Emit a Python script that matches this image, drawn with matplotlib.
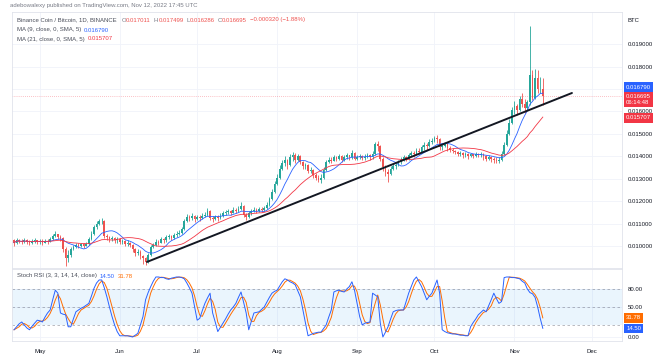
import matplotlib
matplotlib.use('Agg')
import matplotlib.pyplot as plt
import matplotlib.dates as mdates
import numpy as np
import pandas as pd

# BNB/BTC daily candles, prices in thousandths of BTC (10.20 -> 0.01020)
start_date = '2022-04-21'
first_open = 10.25
closes = [
    10.15, 10.28, 10.22, 10.18, 10.25, 10.20, 10.12, 10.22, 10.26, 10.18,
    10.22, 10.15, 10.24, 10.20, 10.30, 10.45, 10.52, 10.40, 10.35, 9.85,
    9.45, 9.60, 9.85, 9.95, 10.05, 9.98, 10.08, 10.02, 10.10, 10.30,
    10.55, 10.85, 11.00, 11.10, 11.12, 10.45, 10.38, 10.30, 10.35, 10.25,
    10.30, 10.18, 10.22, 10.10, 10.15, 10.05, 9.85, 9.70, 9.75, 9.55,
    9.45, 9.30, 9.60, 9.95, 10.05, 10.20, 10.15, 10.30, 10.25, 10.40,
    10.45, 10.35, 10.50, 10.55, 10.60, 10.75, 11.10, 11.30, 11.25, 11.35,
    11.20, 11.30, 11.25, 11.35, 11.40, 11.55, 11.25, 11.20, 11.30, 11.25,
    11.35, 11.45, 11.50, 11.55, 11.48, 11.60, 11.55, 11.65, 11.80, 11.40,
    11.30, 11.45, 11.55, 11.62, 11.58, 11.65, 11.60, 11.70, 11.85, 12.10,
    12.40, 12.75, 13.05, 13.45, 13.70, 13.85, 13.60, 13.95, 14.05, 13.85,
    14.00, 13.75, 13.55, 13.60, 13.35, 13.40, 13.15, 13.05, 12.95, 13.05,
    13.40, 13.75, 13.85, 13.80, 13.95, 13.90, 14.00, 13.85, 13.95, 14.05,
    13.95, 14.15, 13.90, 13.95, 14.00, 13.92, 13.98, 14.05, 13.95, 14.10,
    14.55, 14.45, 13.90, 13.50, 13.30, 13.20, 13.45, 13.55, 13.60, 13.75,
    13.85, 13.95, 13.90, 14.05, 14.15, 14.10, 14.25, 14.20, 14.40, 14.50,
    14.45, 14.65, 14.70, 14.80, 14.75, 14.40, 14.45, 14.55, 14.35, 14.30,
    14.25, 14.20, 14.10, 14.15, 14.05, 14.12, 14.00, 14.08, 14.02, 14.10,
    14.05, 14.12, 14.00, 13.90, 13.95, 13.88, 13.85, 13.80, 13.85, 14.10,
    14.50, 15.00, 15.50, 16.05, 16.25, 16.05, 16.55, 16.35, 16.15, 16.40,
    17.60, 16.60, 17.50, 17.00, 17.011, 16.695,
]
highs = [
    10.32, 10.36, 10.33, 10.30, 10.34, 10.31, 10.27, 10.30, 10.35, 10.29,
    10.33, 10.30, 10.32, 10.31, 10.40, 10.55, 10.65, 10.55, 10.48, 10.40,
    9.95, 9.80, 9.95, 10.05, 10.15, 10.12, 10.15, 10.12, 10.18, 10.38,
    10.65, 10.95, 11.10, 11.22, 11.25, 11.15, 10.55, 10.45, 10.45, 10.40,
    10.40, 10.35, 10.30, 10.28, 10.25, 10.20, 10.10, 9.90, 9.85, 9.80,
    9.60, 9.50, 9.70, 10.05, 10.15, 10.30, 10.28, 10.38, 10.35, 10.48,
    10.55, 10.50, 10.58, 10.65, 10.70, 10.85, 11.20, 11.42, 11.40, 11.45,
    11.38, 11.40, 11.38, 11.45, 11.52, 11.70, 11.60, 11.35, 11.40, 11.38,
    11.45, 11.55, 11.62, 11.65, 11.60, 11.72, 11.68, 11.80, 11.95, 11.85,
    11.45, 11.55, 11.65, 11.72, 11.70, 11.75, 11.72, 11.80, 11.95, 12.20,
    12.55, 12.90, 13.20, 13.60, 13.85, 14.00, 13.90, 14.10, 14.20, 14.15,
    14.10, 14.05, 13.80, 13.72, 13.65, 13.52, 13.45, 13.25, 13.15, 13.20,
    13.50, 13.85, 13.95, 13.95, 14.05, 14.02, 14.12, 14.05, 14.05, 14.15,
    14.05, 14.30, 14.20, 14.05, 14.10, 14.05, 14.08, 14.15, 14.10, 14.25,
    14.65, 14.70, 14.50, 13.95, 13.60, 13.45, 13.55, 13.65, 13.70, 13.85,
    13.95, 14.05, 14.02, 14.15, 14.25, 14.25, 14.35, 14.35, 14.50, 14.62,
    14.60, 14.75, 14.82, 14.92, 14.95, 14.80, 14.55, 14.65, 14.60, 14.45,
    14.35, 14.30, 14.25, 14.22, 14.20, 14.20, 14.15, 14.15, 14.12, 14.18,
    14.15, 14.20, 14.15, 14.05, 14.05, 14.00, 13.95, 13.95, 13.95, 14.25,
    14.65, 15.15, 15.65, 16.20, 16.45, 16.35, 16.70, 16.80, 16.55, 16.50,
    19.80, 17.85, 17.90, 17.85, 17.55, 17.499,
]
lows = [
    10.02, 10.10, 10.14, 10.08, 10.12, 10.10, 10.03, 10.08, 10.15, 10.07,
    10.10, 10.05, 10.12, 10.10, 10.17, 10.28, 10.38, 10.30, 10.22, 9.75,
    9.10, 9.30, 9.50, 9.80, 9.90, 9.90, 9.95, 9.92, 9.98, 10.05,
    10.25, 10.48, 10.78, 10.95, 10.98, 10.35, 10.25, 10.20, 10.22, 10.15,
    10.15, 10.08, 10.10, 10.00, 10.02, 9.95, 9.75, 9.55, 9.62, 9.40,
    9.20, 9.15, 9.25, 9.55, 9.90, 10.00, 10.05, 10.12, 10.15, 10.20,
    10.30, 10.25, 10.32, 10.42, 10.48, 10.55, 10.72, 11.05, 11.12, 11.15,
    11.08, 11.15, 11.12, 11.20, 11.28, 11.35, 11.15, 11.08, 11.15, 11.12,
    11.22, 11.30, 11.38, 11.42, 11.38, 11.45, 11.45, 11.50, 11.60, 11.30,
    11.18, 11.25, 11.40, 11.50, 11.45, 11.52, 11.50, 11.55, 11.65, 11.80,
    12.05, 12.35, 12.70, 13.00, 13.40, 13.55, 13.45, 13.55, 13.80, 13.70,
    13.80, 13.65, 13.45, 13.45, 13.25, 13.25, 13.05, 12.95, 12.85, 12.80,
    13.00, 13.35, 13.70, 13.70, 13.78, 13.80, 13.85, 13.75, 13.80, 13.90,
    13.85, 13.90, 13.82, 13.85, 13.88, 13.82, 13.85, 13.92, 13.85, 13.90,
    14.05, 14.25, 13.80, 13.35, 13.10, 12.85, 13.15, 13.40, 13.45, 13.55,
    13.65, 13.80, 13.78, 13.85, 14.00, 13.98, 14.05, 14.08, 14.15, 14.30,
    14.30, 14.40, 14.55, 14.62, 14.60, 14.30, 14.30, 14.40, 14.25, 14.18,
    14.15, 14.10, 14.00, 14.02, 13.92, 13.98, 13.90, 13.95, 13.92, 13.98,
    13.95, 13.98, 13.85, 13.78, 13.82, 13.75, 13.72, 13.70, 13.72, 13.80,
    14.05, 14.45, 14.95, 15.45, 15.90, 15.85, 16.00, 16.20, 15.95, 16.05,
    16.30, 16.50, 16.55, 16.80, 16.80, 16.286,
]
# Stoch RSI %K (one value per day)
stoch_k = [
    12, 17, 22, 25, 20, 15, 12, 18, 23, 28,
    27, 25, 33, 40, 45, 62, 78, 73, 40, 38,
    37, 17, 17, 30, 42, 45, 48, 50, 53, 56,
    68, 81, 90, 95, 95, 82, 67, 50, 34, 20,
    9, 2, 2, 2, 2, 1, 0, 3, 6, 20,
    34, 62, 74, 84, 93, 100, 100, 99, 99, 97,
    96, 98, 99, 100, 100, 99, 97, 90, 82, 73,
    50, 28, 31, 44, 56, 65, 73, 40, 25, 9,
    16, 23, 30, 38, 45, 50, 56, 66, 75, 58,
    40, 12, 26, 40, 41, 42, 46, 50, 58, 66,
    73, 76, 78, 85, 92, 97, 95, 92, 90, 87,
    77, 67, 45, 23, 2, 4, 6, 7, 8, 8,
    14, 20, 33, 45, 75, 77, 78, 76, 75, 80,
    84, 92, 78, 56, 34, 20, 23, 24, 25, 73,
    70, 67, 23, 0, 8, 17, 30, 42, 44, 45,
    45, 45, 59, 73, 84, 95, 100, 92, 84, 73,
    62, 68, 73, 84, 95, 73, 12, 9, 7, 6,
    5, 5, 4, 3, 3, 2, 2, 17, 24, 30,
    37, 41, 45, 42, 52, 62, 73, 64, 56, 59,
    99, 100, 100, 99, 99, 98, 97, 93, 90, 80,
    74, 72, 66, 50, 31, 14.5,
]

# last values as printed by the chart legend
ma9_last = 0.016790
ma21_last = 0.015707
stoch_k_last = 14.50
stoch_d_last = 31.78

months = ['May', 'Jun', 'Jul', 'Aug', 'Sep', 'Oct', 'Nov', 'Dec']
month_starts = ['2022-05-01', '2022-06-01', '2022-07-01', '2022-08-01',
                '2022-09-01', '2022-10-01', '2022-11-01', '2022-12-01']
price_ticks = [10, 11, 12, 13, 14, 15, 16, 17, 18, 19]
hidden_price_ticks = [17]  # covered by the last-value labels on the scale
stoch_ticks = [0, 50, 80]
trend_dates = ['2022-06-11 13:00', '2022-11-23 07:00']
trend_prices = [9.29, 16.82]

W, H = 660, 361
GREEN, RED = '#26a69a', '#ef5350'
BLUE, ORANGE, MA_RED = '#2962ff', '#ff6d00', '#f23645'
GRAY, DARK = '#787b86', '#131722'
FONT = 'Liberation Sans'
FS = 4.3

closes = np.array(closes) / 1000
highs = np.array(highs) / 1000
lows = np.array(lows) / 1000
# daily crypto bars open at the previous close
opens = np.concatenate([[first_open / 1000], closes[:-1]])
highs = np.maximum(highs, np.maximum(opens, closes))
lows = np.minimum(lows, np.minimum(opens, closes))
dates = pd.date_range(start_date, periods=len(closes), freq='D')
x = mdates.date2num(dates)

ma9 = pd.Series(closes).rolling(9, min_periods=1).mean()
ma21 = pd.Series(closes).rolling(21, min_periods=1).mean()
k = pd.Series(stoch_k, dtype=float)
d = k.rolling(3, min_periods=1).mean()

fig = plt.figure(figsize=(W / 100, H / 100), dpi=100)
fig.patch.set_facecolor('white')


def px_axes(l, t, r, b):
    return fig.add_axes([l / W, 1 - b / H, (r - l) / W, (b - t) / H])


ax = px_axes(12, 12, 622, 268)
ax2 = px_axes(12, 269, 622, 341)

x0 = x[0]
month_x = mdates.date2num(pd.to_datetime(month_starts))
for a in (ax, ax2):
    a.set_xlim(x0 - 0.78, x0 + 235.7)
    a.set_xticks(month_x)
    for s in a.spines.values():
        s.set_color('#e0e3eb')
        s.set_linewidth(0.6)
    a.grid(True, color='#f0f3fa', lw=0.6)
    a.set_axisbelow(True)
    a.yaxis.tick_right()
    a.tick_params(axis='both', length=0, labelsize=FS, labelcolor=DARK, pad=4.5)

# ---- price pane
ax.set_ylim(9.02e-3, 20.43e-3)
ax.set_yticks(np.array(price_ticks) / 1000)
ax.set_yticklabels(['' if t in hidden_price_ticks else '%.6f' % (t / 1000) for t in price_ticks],
                   family=FONT)
ax.tick_params(axis='x', labelbottom=False)

up = closes >= opens
col = np.where(up, GREEN, RED)
ax.vlines(x, lows, highs, colors=col, lw=0.6, zorder=3)
ax.bar(x, np.maximum(np.abs(closes - opens), 0.00002), bottom=np.minimum(opens, closes),
       width=0.65, color=col, lw=0, zorder=3)
ax.plot(x, ma9, color=BLUE, lw=0.6, zorder=4)
ax.plot(x, ma21, color=MA_RED, lw=0.6, zorder=4)
ax.plot(mdates.date2num(pd.to_datetime(trend_dates)), np.array(trend_prices) / 1000,
        color=DARK, lw=1.4, zorder=5, solid_capstyle='round')
ax.axhline(closes[-1], color=MA_RED, lw=0.5, ls=(0, (1, 2)), alpha=0.6, zorder=2)


def price_box(a, value, text, color, dy=0, va='center'):
    a.annotate(text, xy=(1, value), xycoords=('axes fraction', 'data'),
               xytext=(3, dy), textcoords='offset points', ha='left', va=va,
               fontsize=FS, color='white', family=FONT, annotation_clip=False,
               bbox=dict(boxstyle='square,pad=0.35', fc=color, ec='none'), zorder=10)


# the scale stacks the labels so they do not cover each other
price_box(ax, ma9_last, '%.6f' % ma9_last, BLUE, dy=4.8)
price_box(ax, closes[-1], '%.6f\n06:14:48' % closes[-1], MA_RED, dy=1.0, va='top')
price_box(ax, ma21_last, '%.6f' % ma21_last, MA_RED)
ax.annotate('BTC', xy=(1, 1), xycoords='axes fraction', xytext=(4.3, -5.8),
            textcoords='offset points', ha='left', va='center', fontsize=FS,
            color=DARK, family=FONT, annotation_clip=False)

# ---- stoch RSI pane
ax2.set_ylim(-6.7, 113.3)
ax2.set_yticks(stoch_ticks)
ax2.set_yticklabels(['%.2f' % t for t in stoch_ticks], family=FONT)
ax2.set_xticklabels(months, family=FONT)
ax2.tick_params(axis='x', pad=6)
ax2.axhspan(20, 80, color='#2196f3', alpha=0.09, lw=0, zorder=1)
for lvl in (80, 50, 20):
    ax2.axhline(lvl, color=GRAY, lw=0.6, ls=(0, (3, 3)), alpha=0.6, zorder=2)
ax2.plot(x, k, color=BLUE, lw=0.7, zorder=4)
ax2.plot(x, d, color=ORANGE, lw=0.7, zorder=3)
price_box(ax2, stoch_d_last, '%.2f' % stoch_d_last, ORANGE)
price_box(ax2, stoch_k_last, '%.2f' % stoch_k_last, BLUE)

# ---- header texts
renderer = fig.canvas.get_renderer()


def text_row(parts, px, py, size=FS):
    for text, color, gap in parts:
        t = fig.text(px / W, 1 - py / H, text, color=color, fontsize=size,
                     family=FONT, ha='left', va='center')
        px += t.get_window_extent(renderer).width + gap


text_row([('adebowalexy published on TradingView.com, Nov 12, 2022 17:45 UTC', GRAY, 0)], 10, 6)
text_row([('Binance Coin / Bitcoin, 1D, BINANCE', '#4a4e5a', 5),
          ('O', GRAY, 0), ('0.017011', RED, 3),
          ('H', GRAY, 0), ('0.017499', RED, 3),
          ('L', GRAY, 0), ('0.016286', RED, 3),
          ('C', GRAY, 0), ('0.016695', RED, 3),
          ('\u22120.000320 (\u22121.88%)', RED, 0)], 17, 20)
text_row([('MA (9, close, 0, SMA, 5)', '#4a4e5a', 3), ('%.6f' % ma9_last, BLUE, 0)], 17, 30)
text_row([('MA (21, close, 0, SMA, 5)', '#4a4e5a', 3), ('%.6f' % ma21_last, MA_RED, 0)], 17, 39)
text_row([('Stoch RSI (3, 3, 14, 14, close)', '#4a4e5a', 3), ('%.2f' % stoch_k_last, BLUE, 3),
          ('%.2f' % stoch_d_last, ORANGE, 0)], 17, 276)

fig.savefig('out.png', dpi=100, facecolor='white')
